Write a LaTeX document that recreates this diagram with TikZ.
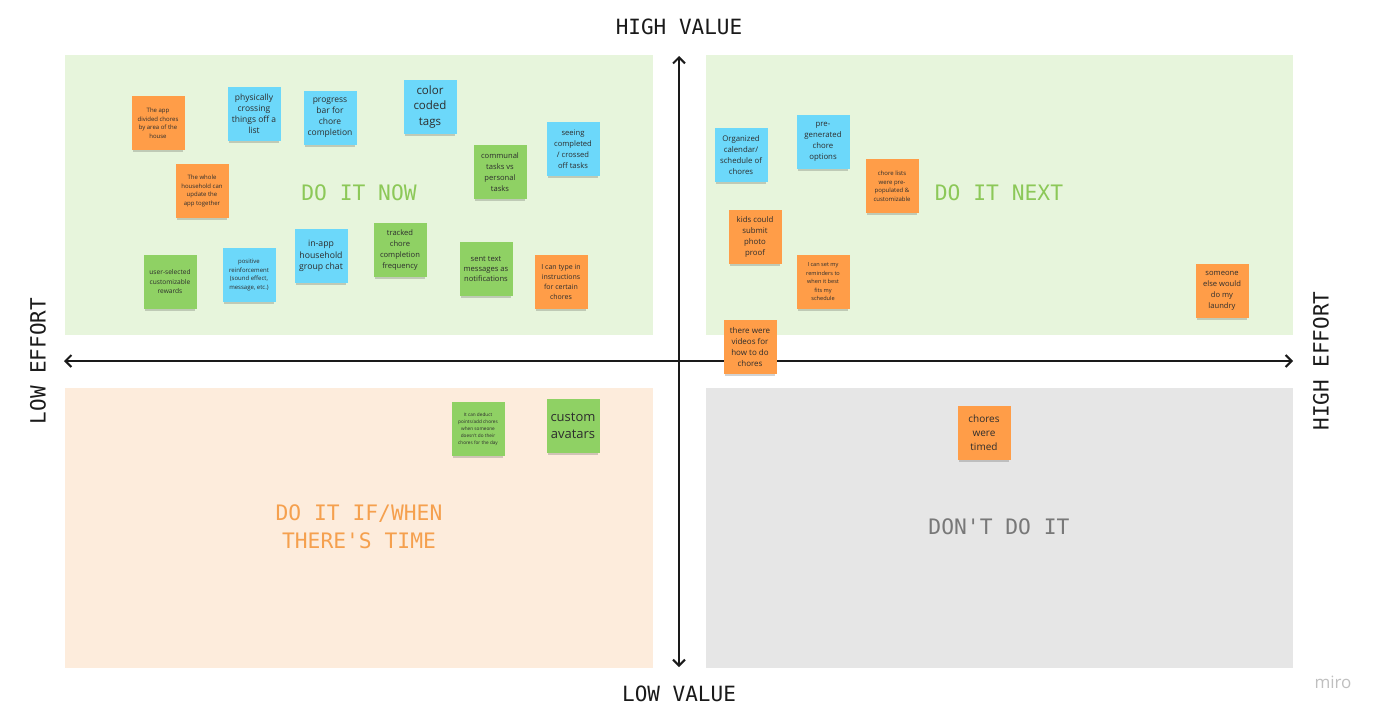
\documentclass[tikz,border=0pt]{standalone}
\usepackage{fontspec}
\setmainfont{Open Sans}
\newfontfamily\monofont{DejaVu Sans Mono}
\usetikzlibrary{arrows.meta,shadows}

\definecolor{nowbg}{RGB}{231,245,220}
\definecolor{laterbg}{RGB}{253,236,220}
\definecolor{dontbg}{RGB}{230,230,230}
\definecolor{nowtext}{RGB}{140,200,88}
\definecolor{latertext}{RGB}{245,160,78}
\definecolor{donttext}{RGB}{120,120,120}
\definecolor{orangenote}{RGB}{255,157,72}
\definecolor{bluenote}{RGB}{108,216,250}
\definecolor{greennote}{RGB}{143,209,100}
\definecolor{notetext}{RGB}{45,45,45}
\definecolor{axiscol}{RGB}{26,26,26}

\begin{document}
\begin{tikzpicture}[x=1pt,y=-1pt]
    \tikzset{note/.style={minimum width=53pt,minimum height=54pt,inner sep=1pt,
                align=center,text=notetext,
                drop shadow={shadow xshift=0pt,shadow yshift=-4pt,shadow scale=.94,opacity=.22,fill=black!80}},
        onote/.style={note,fill=orangenote},
        bnote/.style={note,fill=bluenote},
        gnote/.style={note,fill=greennote},
        fs/.style 2 args={font=\fontsize{#1}{#2}\selectfont},
        axislabel/.style={font=\monofont\fontsize{21}{24}\selectfont,text=axiscol},
        quadlabel/.style={font=\monofont\fontsize{21.3}{28}\selectfont,align=center},
        axis/.style={draw=axiscol,line width=2pt,
            {Straight Barb[length=6pt,width=12pt,line width=2pt]}-{Straight Barb[length=6pt,width=12pt,line width=2pt]}}}
    \useasboundingbox (0,0) rectangle (1386,721);

    % quadrants
    \fill[nowbg] (65,55) rectangle (653,335);
    \fill[nowbg] (706,55) rectangle (1293,335);
    \fill[laterbg] (65,388) rectangle (653,668);
    \fill[dontbg] (706,388) rectangle (1293,668);

    \node[quadlabel,text=nowtext] (now) at (359,193) {DO IT NOW};
    \node[quadlabel,text=nowtext] (next) at (999,193) {DO IT NEXT};
    \node[quadlabel,text=latertext] (later) at (359,527) {DO IT IF/WHEN\\THERE'S TIME};
    \node[quadlabel,text=donttext] (dont) at (999,527) {DON'T DO IT};

    % axes
    \coordinate (vtop) at (679,56);
    \coordinate (vbot) at (679,667);
    \coordinate (hleft) at (64,361);
    \coordinate (hright) at (1293,361);
    \draw[axis] (vbot) -- (vtop);
    \draw[axis] (hleft) -- (hright);

    \node[axislabel] (highvalue) at (679,27) {HIGH VALUE};
    \node[axislabel] (lowvalue) at (679,694) {LOW VALUE};
    \node[axislabel,rotate=90] (loweffort) at (38,361) {LOW EFFORT};
    \node[axislabel,rotate=90] (higheffort) at (1321,361) {HIGH EFFORT};

    % do it now
    \node[onote,fs={6}{8.5}] (areas) at (158,123) {The app\\divided chores\\by area of the\\house};
    \node[bnote,fs={8.5}{11}] (crossing) at (254,114) {physically\\crossing\\things off a\\list};
    \node[bnote,fs={8.5}{11}] (progress) at (330,118) {progress\\bar for\\chore\\completion};
    \node[bnote,fs={11.5}{15.5}] (tags) at (430,107) {color\\coded\\tags};
    \node[bnote,fs={7.6}{11}] (seeing) at (573,149) {seeing\\completed\\/ crossed\\off tasks};
    \node[gnote,fs={7.6}{11}] (communal) at (500,172) {communal\\tasks vs\\personal\\tasks};
    \node[onote,fs={6}{8.5}] (household) at (202,191) {The whole\\household can\\update the\\app together};
    \node[gnote,fs={6.6}{9.5}] (rewards) at (170,282) {user-selected\\customizable\\rewards};
    \node[bnote,fs={6}{8.5}] (positive) at (249,275) {positive\\reinforcement\\(sound effect,\\message, etc.)};
    \node[bnote,fs={8.7}{11.5}] (chat) at (321,256) {in-app\\household\\group chat};
    \node[gnote,fs={7.6}{11}] (tracked) at (400,250) {tracked\\chore\\completion\\frequency};
    \node[gnote,fs={7.6}{10}] (texts) at (486,269) {sent text\\messages as\\notifications};
    \node[onote,fs={7}{10}] (instructions) at (561,282) {I can type in\\instructions\\for certain\\chores};

    % do it next
    \node[bnote,fs={7.8}{11}] (calendar) at (741,155) {Organized\\calendar/\\schedule of\\chores};
    \node[bnote,fs={7.8}{11}] (pregen) at (823,142) {pre-\\generated\\chore\\options};
    \node[onote,fs={6}{8.5}] (lists) at (892,186) {chore lists\\were pre-\\populated \&\\customizable};
    \node[onote,fs={7.8}{11}] (photo) at (755,237) {kids could\\submit\\photo\\proof};
    \node[onote,fs={5.6}{8.5}] (reminders) at (823,282) {I can set my\\reminders to\\when it best\\fits my\\schedule};
    \node[onote,fs={7.6}{11}] (laundry) at (1222,291) {someone\\else would\\do my\\laundry};
    \node[onote,fs={8}{11}] (videos) at (750,347) {there were\\videos for\\how to do\\chores};

    % do it if/when there's time
    \node[gnote,fs={4.7}{7}] (deduct) at (478,429) {It can deduct\\points/add chores\\when someone\\doesn't do their\\chores for the day};
    \node[gnote,fs={13}{17}] (avatars) at (573,426) {custom\\avatars};

    % don't do it
    \node[onote,fs={10}{14}] (timed) at (984,433) {chores\\were\\timed};

    \node[font=\fontsize{17}{18}\selectfont,text=black!25] (miro) at (1333,682) {miro};
\end{tikzpicture}
\end{document}
